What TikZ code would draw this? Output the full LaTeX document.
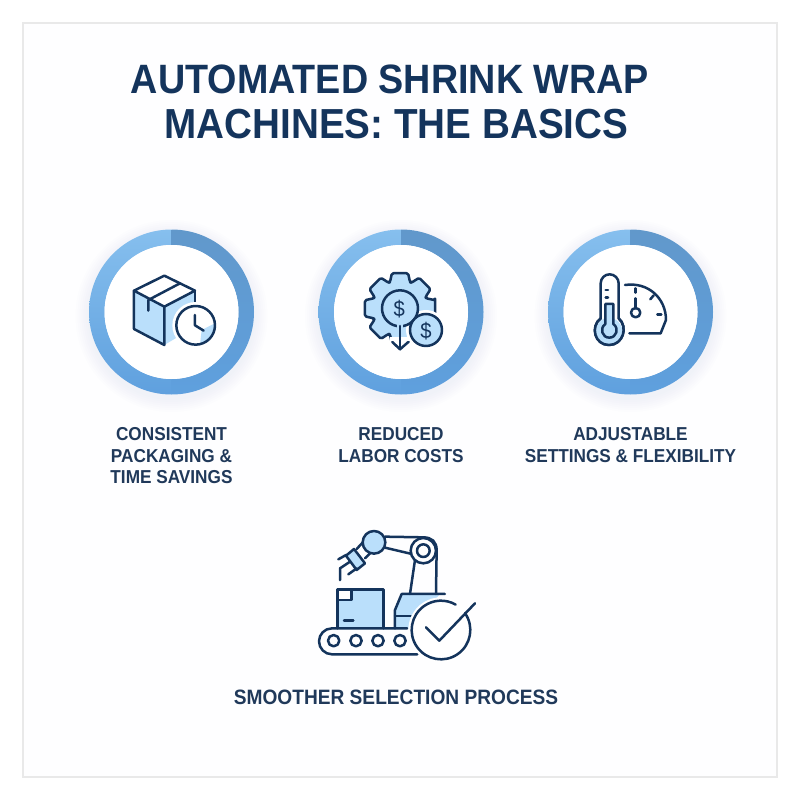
\documentclass[tikz,border=0pt]{standalone}
\usepackage{fontspec}
\setmainfont[FakeStretch=.92]{Liberation Sans}
\usetikzlibrary{positioning}
\definecolor{navy}{HTML}{14345C}
\definecolor{labelnavy}{HTML}{20395A}
\definecolor{pale}{HTML}{BADFFB}
\definecolor{ringlight}{HTML}{86BFEE}
\definecolor{ringmid}{HTML}{5FA0DE}
\definecolor{ringdark}{HTML}{6198CB}
\definecolor{framegray}{HTML}{E9E9E9}
\tikzset{
  icon/.style={draw=navy,line width=2.5pt,line join=round,line cap=round},
  halo/.style={fill=white,draw=none},
  ringdisc/.style={circle,minimum size=165pt,inner sep=0pt},
  caption/.style={font=\fontsize{18.7}{21.5}\selectfont\bfseries,text=labelnavy,align=center,inner sep=0pt},
  dollar/.style={font=\fontsize{22}{22}\selectfont,text=navy,inner sep=0pt},
  zoomed/.style={x=.3333pt,y=-.3333pt}
}
\begin{document}
\begin{tikzpicture}[x=1pt,y=-1pt]
\useasboundingbox (0,0) rectangle (800,800);
\fill[white] (0,0) rectangle (800,800);
\draw[framegray,line width=1.5pt,fill=white!98!pale] (23,23) rectangle (777,777);

\node[font=\fontsize{41}{45}\selectfont\bfseries,text=navy,align=center,inner sep=0pt] (title) at (390,102)
    {AUTOMATED SHRINK WRAP\\\hspace*{13pt}\fontsize{42}{45}\selectfont MACHINES: THE BASICS};

% rings
\foreach \cx/\nm in {171.5/one,401/two,630.5/three}{
    \foreach \r in {84,86,...,96}
        \fill[ringmid,opacity=.011] (\cx,316) circle[radius=\r];
    \node[ringdisc] (ring\nm) at (\cx,312) {};
    \shade[top color=ringlight,bottom color=ringmid]
        (\cx,229.5) arc[start angle=90,end angle=270,radius=82.5pt] -- (\cx,379)
        arc[start angle=270,end angle=90,radius=67pt] -- cycle;
    \shade[top color=ringdark,bottom color=ringmid]
        (\cx,229.5) arc[start angle=90,end angle=-90,radius=82.5pt] -- (\cx,379)
        arc[start angle=-90,end angle=90,radius=67pt] -- cycle;
    \fill[white] (\cx,312) circle[radius=67];
}

\node[caption,below=33pt of ringone] (consistent) {CONSISTENT\\PACKAGING \&\\TIME SAVINGS};
\node[caption,below=33pt of ringtwo] (reduced) {REDUCED\\LABOR COSTS};
\node[caption,below=33pt of ringthree] (adjustable) {ADJUSTABLE\\SETTINGS \& FLEXIBILITY};
\node[caption,font=\fontsize{20.8}{24}\selectfont\bfseries] (smoother) at (396,697) {SMOOTHER SELECTION PROCESS};

% box and clock
\begin{scope}[shift={(80,220)},zoomed]
    \fill[pale] (162,212) -- (253,260) -- (253,375) -- (162,327) -- cycle;
    \fill[pale] (253,260) -- (345,212) -- (345,320) -- (253,375) -- cycle;
    \draw[icon] (253,167) -- (345,212) -- (253,260) -- (162,212) -- cycle;
    \draw[icon] (162,212) -- (162,327) -- (253,375) -- (253,260);
    \draw[icon] (345,212) -- (345,260);
    \draw[icon] (300,190) -- (205,240) -- (205,272);
    \fill[halo] (347,316) circle[radius=70];
    \begin{scope}
        \clip (347,316) circle[radius=58];
        \fill[pale] (365,330) -- (405,310) -- (405,375) -- (360,375) -- cycle;
    \end{scope}
    \draw[icon] (347,316) circle[radius=58];
    \draw[icon] (345,285) -- (345,316) -- (371,332);
\end{scope}

% gear and coins
\begin{scope}[shift={(400,308.3)},zoomed]
    \path[icon,fill=pale,rounded corners=1.5pt] (-13:108)
        \foreach \a in {0,45,...,315}{
            -- (\a-13:108) -- (\a+13:108) -- (\a+21:84) -- (\a+24:84)
        } -- cycle;
\end{scope}
\begin{scope}[shift={(310,220)},zoomed]
    \fill[halo] (240,352) rectangle (298,400);
    \fill[halo] (348,330) circle[radius=60];
    \draw[icon,fill=pale] (270,265) circle[radius=54];
    \fill[pale] (262,305) rectangle (278,325);
    \draw[icon] (270,318) -- (270,388);
    \draw[icon] (247,366) -- (270,388) -- (295,366);
    \draw[icon,fill=pale] (348,330) circle[radius=48];
    \node[dollar] (dollargear) at (268,266) {\$};
    \node[dollar] (dollarcoin) at (348,332) {\$};
\end{scope}

% thermometer and gauge
\begin{scope}[shift={(540,220)},zoomed]
    \draw[icon] (255,195) .. controls (325,185) and (378,235) .. (378,300) -- (362,340) -- (268,340);
    \draw[icon] (287,205) -- (287,218);
    \draw[icon] (287,235) -- (287,265);
    \draw[icon] (287,278) circle[radius=14];
    \draw[icon] (331,238) -- (341,226);
    \draw[icon] (352,283) -- (364,283);
    \draw[icon,fill=white] (182,295) -- (182,190) arc[start angle=180,end angle=360,radius=27] -- (236,295)
        .. controls (265,320) and (250,375) .. (207,375) .. controls (164,375) and (150,320) .. (182,295) -- cycle;
    \fill[pale] (207,333) circle[radius=40];
    \draw[icon,fill=pale] (196,252) -- (220,252) -- (220,312)
        .. controls (238,325) and (230,353) .. (208,353) .. controls (186,353) and (178,325) .. (196,312) -- cycle;
    \draw[icon] (182,295) .. controls (150,320) and (164,375) .. (207,375) .. controls (250,375) and (265,320) .. (236,295);
    \draw[icon] (197,210) -- (204,210);
    \draw[icon] (197,232) -- (204,232);
\end{scope}

% robot on conveyor
\begin{scope}[shift={(300,520)},zoomed]
    \fill[pale] (285,325) -- (285,270) -- (305,222) -- (420,222) -- (330,325) -- cycle;
    \fill[pale] (113,208) rectangle (250,325);
    \fill[white] (113,208) rectangle (155,240);
    \draw[icon] (113,325) -- (113,208) -- (250,208) -- (250,325);
    \draw[icon] (113,240) -- (155,240) -- (155,208);
    \draw[icon] (132,302) -- (160,302);
    \draw[icon] (352,403) -- (96,403) arc[start angle=90,end angle=270,radius=39] -- (322,325);
    \foreach \wx in {101,168,234,300}
        \draw[icon] (\wx,362) circle[radius=17];
    \draw[icon] (285,325) -- (285,270) -- (305,222) -- (435,222);
    \draw[icon] (285,288) -- (332,288);
    \draw[icon] (330,222) -- (345,120);
    \draw[icon] (408,222) -- (410,90) .. controls (410,65) and (395,52) .. (370,52) -- (255,50);
    \draw[icon] (255,83) -- (340,103);
    \draw[icon,fill=white] (370,92) circle[radius=38];
    \draw[icon] (370,92) circle[radius=19];
    \draw[icon] (170,87) -- (195,60);
    \draw[icon] (195,115) -- (220,90);
    \draw[icon,fill=pale] (222,67) circle[radius=34];
    \draw[icon,fill=pale] (138,107) -- (162,87) -- (195,130) -- (170,150) -- cycle;
    \draw[icon] (115,118) -- (138,105);
    \draw[icon] (120,180) -- (120,145) -- (150,125);
    \draw[icon] (145,163) -- (170,145);
    \fill[halo] (423,330) circle[radius=98];
    \draw[icon] (423,330) ++(-35:88) arc[start angle=35,end angle=-300,radius=88pt/3];
    \draw[icon] (378,322) -- (418,362) -- (525,250);
\end{scope}
\end{tikzpicture}
\end{document}
